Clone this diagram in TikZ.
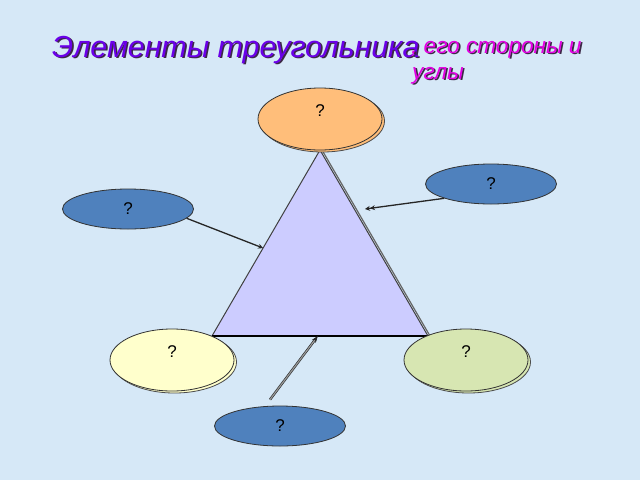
\documentclass[tikz,border=0pt]{standalone}
\usepackage{fontspec}
\setmainfont{Liberation Sans}
\usetikzlibrary{calc,shadows,arrows.meta,shapes.geometric}
\definecolor{bgblue}{RGB}{214,232,247}
\definecolor{titlepurple}{RGB}{106,0,232}
\definecolor{subpink}{RGB}{228,0,228}
\definecolor{shadowgray}{RGB}{60,40,70}
\definecolor{ovalblue}{RGB}{79,129,189}
\definecolor{ovalorange}{RGB}{255,190,122}
\definecolor{ovalyellow}{RGB}{255,255,204}
\definecolor{ovalgreen}{RGB}{215,230,178}
\definecolor{trifill}{RGB}{204,204,255}
\newcommand{\shadowed}[2]{\rlap{\color{shadowgray}\kern1.6pt\raisebox{-1.6pt}{#2}}{\color{#1}#2}}
\tikzset{
  bigoval/.style={ellipse, draw=black!80, line width=0.8pt, minimum width=124pt, minimum height=62pt,
    inner sep=0pt, text depth=16pt, font=\fontsize{17}{19}\selectfont,
    copy shadow={shadow xshift=2.5pt, shadow yshift=-2pt, draw=black!70, fill=#1}, fill=#1},
  smalloval/.style={ellipse, draw=black!80, line width=0.8pt, fill=ovalblue, minimum width=131pt,
    minimum height=40pt, inner sep=0pt, font=\fontsize{17}{19}\selectfont},
  pointer/.style={line width=1.3pt, black!85}
}
\begin{document}
\begin{tikzpicture}[x=1pt,y=-1pt]
			%%%%% START %%%%%
			
			\fill[bgblue] (0,0) rectangle (640,480);
			\useasboundingbox (0,0) rectangle (640,480);
			
			\node[anchor=base west, inner sep=0pt, font=\fontsize{30.4}{32}\selectfont\itshape] (title) at (52,57)
			  {\shadowed{titlepurple}{Элементы треугольника}};
			\node[anchor=base west, inner sep=0pt, align=left, font=\fontsize{22.6}{26}\selectfont\itshape] (subtitle) at (411,79)
			  {\shadowed{subpink}{, его стороны и}\\\shadowed{subpink}{\kern1pt углы}};
			
			% triangle
			\coordinate (apex) at (320,150);
			\coordinate (bl) at (212,336);
			\coordinate (br) at (428,336);
			\draw[black!60, line width=1.2pt] ($(apex)+(2,0)$) -- ($(br)+(2,0)$);
			\fill[trifill] (apex) -- (bl) -- (br) -- cycle;
			\draw[black!75, line width=1pt] (br) -- (apex) -- (bl);
			\draw[black, line width=1.6pt] (bl) -- (br);
			
			% ovals
			\node[bigoval=ovalorange] (top) at (320,119) {?};
			\node[bigoval=ovalyellow] (left) at (172,360) {?};
			\node[bigoval=ovalgreen] (right) at (466,360) {?};
			\node[smalloval] (side1) at (128,209) {?};
			\node[smalloval] (side2) at (491,184) {?};
			\node[smalloval] (side3) at (280,426) {?};
			
			% pointers
			\coordinate (end1) at ($(apex)!0.527!(bl)$);
			\coordinate (end2) at (365,209);
			\coordinate (end3) at ($(bl)!0.49!(br)$);
			\draw[pointer, -{Stealth[length=5pt,width=5pt]}] (side1.-9) -- (end1);
			\draw[pointer, -{Stealth[length=5pt,width=5pt]Stealth[length=5pt,width=5pt]}] (side2.-163) -- (end2);
			\draw[pointer, line width=0.6pt, double=black!40, double distance=1.2pt, -{Stealth[length=7pt,width=5pt]}]
			  ($(side3.north)+(-10,-6)$) -- (end3);
			
			%%%%% END %%%%%
		\end{tikzpicture}
\end{document}
